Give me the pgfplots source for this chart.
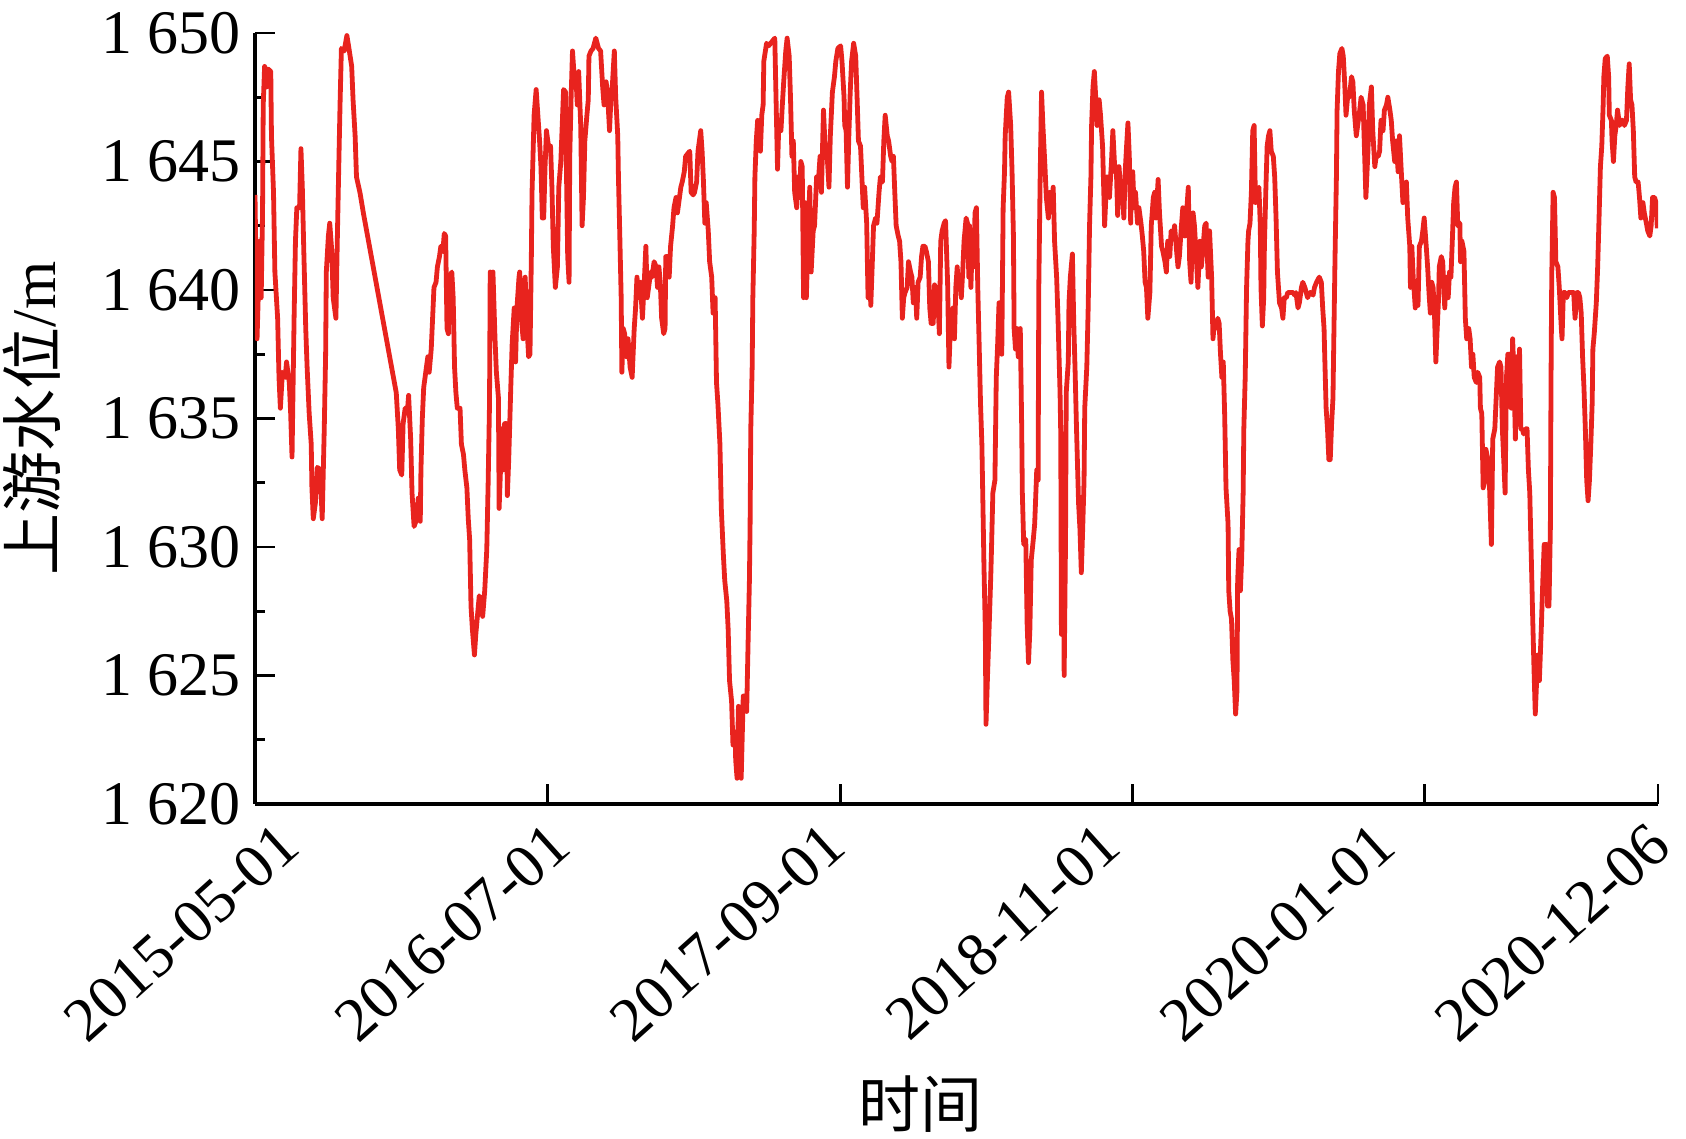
\documentclass[border=0pt]{standalone}
\usepackage{pgfplots}
\pgfplotsset{compat=1.18}
\usepackage{pgfplotstable}
\usepackage{fontspec}
\setmainfont{Liberation Serif}
\newfontfamily\cjk{Noto Sans CJK SC}
\definecolor{wl}{RGB}{232,35,30}
\pgfplotstableread{
x y
0 1643.7
3 1638.1
7 1641.9
9 1639.7
11 1643.0
12 1647.2
14 1648.7
17 1647.9
19 1648.6
23 1648.5
24 1646.0
27 1643.8
29 1640.7
33 1638.9
35 1636.6
37 1635.4
40 1636.8
44 1636.6
46 1637.2
50 1636.4
52 1635.2
54 1633.5
57 1638.9
59 1641.9
61 1643.2
65 1643.2
67 1645.5
69 1644.0
71 1641.7
74 1638.5
76 1637.0
79 1635.2
82 1634.0
83 1632.3
85 1631.1
88 1631.7
91 1633.1
95 1633.0
98 1631.1
101 1634.6
103 1637.5
104 1640.7
107 1642.1
109 1642.6
112 1641.5
114 1639.7
118 1638.9
120 1641.9
122 1644.6
124 1647.2
126 1649.4
130 1649.3
134 1649.9
137 1649.4
141 1648.7
143 1647.4
146 1646.0
148 1644.4
153 1643.8
158 1643.0
206 1636.0
209 1634.6
211 1633.0
214 1632.8
216 1634.8
219 1635.4
222 1635.2
224 1635.9
227 1634.2
229 1632.1
232 1630.8
236 1631.1
238 1631.9
241 1631.0
242 1633.0
244 1635.0
246 1636.2
249 1636.8
252 1637.4
254 1636.8
257 1637.7
259 1638.9
261 1640.1
264 1640.3
266 1640.9
269 1641.3
271 1641.7
274 1641.5
276 1642.2
278 1642.1
280 1638.5
282 1638.3
284 1640.5
287 1640.7
289 1639.7
291 1637.0
293 1636.0
295 1635.4
299 1635.4
301 1634.0
304 1633.6
306 1633.0
309 1632.3
311 1631.1
313 1630.3
315 1627.7
317 1626.8
320 1625.8
322 1626.6
325 1627.5
327 1628.1
329 1627.9
332 1627.3
335 1628.3
338 1629.9
340 1632.5
342 1635.6
343 1640.7
345 1638.5
347 1640.7
350 1638.1
352 1636.8
355 1635.8
356 1631.5
358 1633.0
360 1634.6
362 1633.0
364 1634.8
367 1634.8
368 1632.0
370 1633.4
373 1636.2
375 1637.9
378 1639.3
380 1637.2
382 1639.3
385 1640.5
386 1640.7
389 1638.7
391 1638.1
394 1640.5
396 1638.9
399 1637.4
401 1637.5
403 1641.3
404 1643.8
406 1645.8
407 1646.8
410 1647.8
412 1647.0
415 1645.8
417 1644.8
419 1642.8
421 1642.8
423 1644.8
425 1646.2
428 1645.6
431 1645.6
433 1644.0
435 1641.7
438 1640.1
441 1640.9
443 1644.0
446 1645.0
448 1646.4
450 1647.8
453 1647.7
454 1645.0
456 1641.3
458 1640.3
459 1645.2
461 1647.5
463 1649.3
466 1648.1
468 1648.3
470 1647.2
472 1648.5
475 1646.4
477 1642.5
479 1643.6
481 1645.8
484 1646.8
486 1647.4
487 1649.1
490 1649.3
493 1649.4
497 1649.8
501 1649.4
504 1649.3
507 1647.9
509 1647.2
512 1648.1
514 1647.7
517 1646.2
519 1647.4
521 1647.9
524 1649.3
526 1647.5
529 1646.0
530 1644.4
532 1642.1
534 1639.7
535 1636.8
537 1638.5
539 1638.3
542 1637.4
544 1638.1
547 1637.0
550 1636.6
553 1638.5
555 1639.3
557 1640.5
560 1639.7
562 1640.3
565 1638.9
568 1640.5
570 1641.7
572 1639.7
574 1640.1
577 1640.7
579 1640.5
582 1641.1
585 1640.9
587 1640.1
589 1640.9
591 1640.3
593 1638.9
596 1638.3
598 1638.5
599 1641.3
602 1641.3
604 1640.5
606 1641.7
609 1642.5
611 1643.2
614 1643.6
616 1643.0
619 1643.6
621 1644.0
623 1644.2
626 1644.6
628 1645.2
631 1645.3
634 1645.4
636 1643.8
639 1643.7
641 1643.8
644 1644.2
646 1645.4
650 1646.2
652 1645.4
654 1644.2
656 1642.6
658 1643.4
661 1642.3
663 1641.1
666 1640.5
668 1639.1
671 1639.7
673 1636.4
675 1635.6
678 1634.0
680 1631.5
683 1629.7
685 1628.7
688 1627.9
690 1626.8
692 1624.8
695 1624.0
697 1622.3
700 1622.8
701 1621.7
703 1621.0
705 1623.8
707 1622.1
709 1621.0
712 1624.2
714 1624.2
717 1623.6
719 1626.2
721 1628.7
722 1630.9
723 1634.6
725 1637.0
726 1639.7
728 1642.3
729 1644.4
731 1645.8
733 1646.6
735 1646.4
737 1645.4
739 1646.8
741 1647.2
742 1648.9
746 1649.6
749 1649.5
752 1649.6
755 1649.7
758 1649.8
759 1648.5
762 1644.7
764 1646.6
767 1646.2
769 1647.2
771 1648.1
774 1649.3
776 1649.8
779 1649.1
781 1647.4
783 1645.2
785 1645.8
787 1643.8
790 1643.2
792 1644.4
794 1643.6
796 1645.0
798 1644.8
800 1639.7
802 1643.4
804 1639.7
807 1642.5
809 1644.0
811 1640.7
814 1642.3
816 1642.5
819 1644.4
821 1644.0
824 1645.2
826 1643.8
829 1647.0
832 1645.2
834 1645.4
837 1644.0
839 1646.0
842 1647.7
845 1648.3
847 1648.9
850 1649.4
854 1649.5
856 1648.9
859 1647.5
860 1646.4
862 1646.2
864 1644.0
866 1646.0
868 1647.7
870 1648.9
873 1649.6
876 1649.1
878 1647.5
880 1645.8
883 1645.6
885 1644.4
887 1643.2
889 1644.0
892 1642.6
894 1639.7
896 1640.9
898 1639.4
900 1640.9
902 1642.5
905 1642.8
907 1642.6
910 1643.8
912 1644.4
915 1644.2
917 1645.8
919 1646.8
922 1646.0
924 1645.8
927 1645.2
929 1645.0
931 1645.2
933 1643.8
935 1642.5
938 1642.1
940 1641.9
942 1641.1
944 1638.9
946 1639.7
948 1639.9
951 1640.1
953 1641.1
956 1640.7
958 1640.5
960 1639.5
963 1640.1
965 1638.9
967 1640.3
970 1640.5
972 1641.3
974 1641.7
977 1641.7
979 1641.5
982 1641.1
984 1639.3
986 1638.7
989 1638.7
991 1640.2
993 1639.9
995 1640.1
998 1638.3
1000 1641.9
1002 1642.3
1005 1642.6
1007 1642.7
1010 1640.3
1012 1637.0
1014 1638.5
1016 1638.9
1018 1639.3
1020 1638.1
1022 1640.1
1024 1640.9
1026 1640.1
1028 1640.5
1030 1639.7
1032 1640.7
1034 1641.9
1037 1642.8
1039 1642.6
1041 1640.5
1042 1642.5
1044 1640.1
1046 1641.9
1048 1640.9
1050 1643.0
1052 1643.2
1054 1640.1
1056 1637.9
1058 1635.6
1060 1634.0
1062 1630.9
1063 1629.3
1065 1626.8
1066 1623.1
1068 1624.8
1070 1626.4
1071 1627.2
1073 1628.9
1074 1629.9
1076 1632.1
1079 1632.6
1081 1636.6
1083 1637.9
1085 1639.5
1087 1639.5
1089 1637.5
1091 1643.2
1093 1644.6
1094 1646.0
1097 1647.5
1099 1647.7
1102 1646.4
1104 1644.6
1106 1642.1
1107 1638.5
1109 1637.7
1111 1638.5
1113 1637.4
1116 1638.5
1118 1634.8
1119 1632.1
1121 1630.1
1124 1630.3
1126 1627.0
1128 1625.5
1130 1626.8
1132 1629.5
1135 1630.3
1137 1630.9
1140 1633.0
1142 1632.6
1143 1640.1
1145 1644.4
1147 1647.7
1149 1646.4
1152 1644.8
1154 1643.6
1157 1642.8
1159 1643.8
1161 1643.2
1164 1644.0
1166 1641.9
1169 1640.5
1171 1638.9
1174 1636.0
1175 1634.4
1176 1626.6
1178 1634.4
1180 1625.0
1182 1630.3
1183 1636.0
1186 1637.2
1187 1639.5
1189 1640.5
1192 1641.4
1194 1638.7
1196 1636.8
1198 1634.6
1201 1631.7
1203 1630.7
1205 1629.0
1207 1630.7
1209 1632.6
1210 1635.4
1213 1637.0
1215 1639.3
1217 1642.5
1219 1644.4
1220 1646.4
1222 1647.9
1224 1648.5
1226 1647.5
1228 1646.4
1231 1647.4
1233 1646.8
1236 1645.6
1238 1643.6
1239 1642.5
1242 1644.4
1244 1644.4
1246 1643.6
1249 1645.0
1251 1646.2
1254 1644.6
1256 1644.8
1258 1642.9
1260 1644.8
1262 1644.0
1265 1643.8
1267 1642.8
1269 1644.6
1271 1645.6
1273 1646.5
1275 1645.2
1277 1642.6
1278 1644.4
1280 1644.6
1282 1643.2
1284 1643.8
1287 1642.6
1289 1643.2
1292 1642.6
1294 1642.1
1296 1641.5
1298 1640.3
1300 1640.1
1302 1638.9
1305 1639.9
1307 1642.5
1310 1643.6
1312 1643.8
1314 1642.8
1317 1644.3
1319 1643.0
1322 1641.7
1324 1641.5
1327 1641.1
1329 1640.7
1331 1641.9
1334 1641.3
1336 1642.3
1339 1642.1
1341 1642.5
1344 1641.5
1346 1640.9
1348 1641.3
1351 1642.5
1353 1643.2
1356 1642.1
1358 1642.8
1361 1644.0
1363 1641.1
1365 1640.3
1368 1643.0
1370 1642.5
1373 1641.1
1375 1640.1
1378 1641.9
1380 1640.9
1382 1641.5
1385 1642.5
1387 1642.6
1390 1640.5
1392 1642.3
1395 1640.5
1397 1638.1
1399 1638.7
1401 1638.5
1404 1638.9
1406 1638.7
1408 1637.5
1410 1636.6
1412 1637.2
1414 1635.2
1415 1633.8
1416 1632.3
1419 1630.9
1420 1628.3
1422 1627.5
1424 1627.2
1426 1625.6
1428 1624.8
1430 1623.5
1432 1624.4
1433 1628.7
1435 1629.9
1437 1628.3
1439 1629.7
1441 1632.1
1442 1634.6
1444 1636.6
1446 1640.1
1448 1641.9
1449 1642.3
1451 1642.6
1453 1643.8
1455 1646.2
1457 1646.4
1459 1643.4
1461 1643.8
1464 1644.0
1466 1642.5
1467 1640.1
1469 1638.6
1471 1639.7
1472 1641.7
1474 1643.8
1476 1645.6
1478 1646.0
1480 1646.2
1482 1645.4
1485 1645.2
1487 1644.4
1489 1642.8
1491 1640.7
1492 1640.3
1494 1639.5
1497 1639.3
1499 1638.9
1501 1639.7
1504 1639.7
1506 1639.9
1509 1639.9
1511 1639.9
1514 1639.9
1516 1639.8
1518 1639.9
1521 1639.3
1523 1639.5
1526 1640.1
1528 1640.3
1531 1640.1
1533 1639.9
1535 1639.7
1538 1639.9
1540 1639.9
1543 1639.8
1545 1640.1
1548 1640.3
1550 1640.4
1552 1640.5
1555 1640.3
1557 1639.3
1559 1638.5
1560 1637.4
1562 1635.4
1564 1634.6
1566 1633.4
1568 1633.4
1570 1634.8
1572 1635.8
1573 1637.7
1575 1641.3
1577 1644.4
1578 1647.0
1580 1648.5
1582 1649.2
1585 1649.4
1587 1649.1
1589 1648.1
1591 1646.8
1594 1647.7
1596 1647.5
1599 1648.3
1601 1648.1
1603 1647.0
1606 1646.0
1608 1646.4
1611 1647.0
1613 1647.5
1616 1647.2
1618 1645.4
1620 1643.6
1623 1645.4
1625 1647.2
1628 1647.9
1630 1646.2
1633 1644.8
1635 1645.2
1638 1645.2
1640 1645.4
1642 1646.6
1645 1646.2
1647 1647.0
1650 1647.2
1652 1647.5
1655 1647.0
1657 1646.6
1659 1645.8
1662 1645.0
1664 1645.8
1667 1644.6
1669 1646.0
1672 1644.4
1674 1643.4
1676 1643.8
1679 1644.2
1681 1642.8
1684 1641.7
1685 1640.1
1687 1641.7
1689 1640.5
1692 1639.3
1694 1640.1
1696 1639.4
1698 1641.7
1701 1641.9
1703 1642.3
1705 1642.8
1708 1641.7
1710 1640.9
1712 1639.9
1714 1639.1
1716 1640.3
1718 1640.1
1720 1639.1
1722 1637.2
1724 1638.5
1726 1639.7
1727 1640.9
1730 1641.3
1732 1641.1
1735 1639.3
1737 1640.5
1740 1639.7
1742 1640.7
1744 1640.5
1746 1641.9
1748 1643.4
1750 1644.0
1752 1644.2
1754 1642.5
1757 1642.6
1758 1641.1
1760 1641.9
1763 1641.5
1765 1638.9
1767 1638.1
1770 1638.5
1772 1638.1
1774 1637.0
1776 1637.5
1778 1636.6
1781 1636.4
1783 1636.8
1786 1636.6
1787 1635.4
1789 1635.2
1791 1632.3
1793 1632.5
1795 1633.8
1798 1633.4
1800 1632.6
1803 1630.1
1805 1634.2
1808 1634.6
1810 1635.8
1812 1637.0
1815 1637.2
1817 1637.0
1819 1634.6
1821 1633.4
1823 1632.1
1825 1636.6
1827 1637.5
1829 1637.5
1832 1635.4
1834 1638.1
1836 1636.6
1838 1634.2
1840 1637.4
1843 1636.2
1844 1637.7
1846 1634.6
1848 1634.6
1850 1634.4
1853 1634.6
1855 1634.6
1857 1633.0
1859 1632.1
1860 1630.9
1862 1628.7
1863 1627.5
1865 1625.4
1867 1623.5
1869 1624.8
1871 1625.8
1873 1624.8
1876 1627.0
1878 1628.7
1880 1630.1
1883 1630.1
1885 1627.7
1887 1627.7
1889 1630.7
1890 1636.6
1891 1640.5
1893 1643.8
1895 1643.6
1897 1641.1
1900 1640.9
1902 1640.1
1905 1638.5
1906 1638.1
1908 1639.9
1911 1639.9
1913 1639.7
1915 1639.9
1918 1639.9
1920 1639.9
1923 1639.9
1925 1638.9
1928 1639.9
1930 1639.9
1932 1639.7
1934 1639.1
1936 1637.4
1938 1636.2
1940 1634.6
1942 1632.6
1944 1631.8
1946 1632.6
1948 1634.0
1950 1635.6
1951 1637.7
1953 1638.3
1956 1639.5
1958 1640.9
1960 1642.8
1962 1644.8
1964 1645.6
1966 1647.2
1967 1648.3
1969 1649.0
1972 1649.1
1974 1648.3
1975 1646.8
1978 1646.6
1979 1645.8
1981 1645.0
1983 1646.0
1985 1646.4
1987 1647.0
1990 1646.4
1992 1646.6
1995 1646.6
1997 1646.4
2000 1646.6
2002 1647.9
2004 1648.8
2006 1647.4
2008 1647.2
2010 1646.2
2012 1644.4
2014 1644.2
2017 1644.2
2019 1643.6
2021 1642.8
2024 1643.4
2026 1643.0
2029 1642.6
2031 1642.3
2034 1642.1
2036 1642.5
2038 1643.6
2041 1643.6
2043 1643.4
2045 1642.4
}\wldata
\begin{document}
\begin{tikzpicture}
\begin{axis}[name=ax, scale only axis, width=350.75pt, height=192.75pt,
  xmin=0, xmax=2046, ymin=1620, ymax=1650,
  axis x line*=bottom, axis y line*=left,
  axis line style={line width=0.9pt, -},
  tick align=inside, major tick length=5pt, minor tick length=2.5pt,
  every tick/.style={black, line width=0.7pt},
  ytick={1620,1625,1630,1635,1640,1645,1650},
  yticklabels={1 620,1 625,1 630,1 635,1 640,1 645,1 650},
  minor ytick={1622.5,1627.5,1632.5,1637.5,1642.5,1647.5},
  xtick={0,427,854,1280,1706,2046},
  xticklabels={},
  extra x ticks={4.4,399.4,801.0,1201.1,1602.7,2004.3},
  extra x tick labels={2015-05-01,2016-07-01,2017-09-01,2018-11-01,2020-01-01,2020-12-06},
  extra x tick style={major tick length=0pt},
  yticklabel style={font=\fontsize{15.5}{18}\selectfont},
  xticklabel style={font=\fontsize{15.5}{18}\selectfont, xshift=4.5pt, yshift=1pt, rotate=42, anchor=north east},
  ylabel={{\cjk 上游水位}/m}, xlabel={\cjk 时间},
  ylabel style={font=\fontsize{15.5}{18}\selectfont, at={(axis description cs:-0.159,0.5)}, anchor=center},
  xlabel style={font=\fontsize{15.5}{18}\selectfont, at={(axis description cs:0.474,-0.389)}, anchor=center},
]
\addplot[color=wl, line width=1.2pt, line join=round] table[x=x,y=y]{\wldata};
\end{axis}
\pgfresetboundingbox
\path[use as bounding box] ([xshift=-63.75pt,yshift=-83.75pt]ax.south west) rectangle ([xshift=7pt,yshift=8.25pt]ax.north east);
\end{tikzpicture}
\end{document}
